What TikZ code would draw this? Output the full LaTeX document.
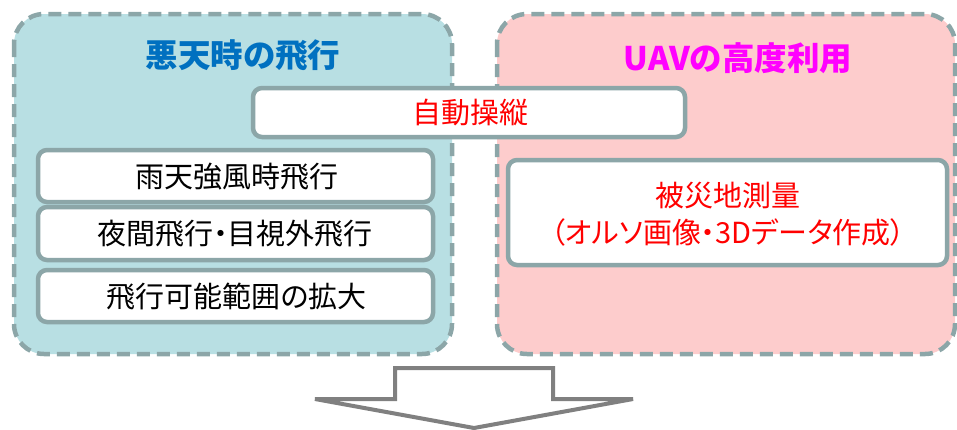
\documentclass[tikz,border=0pt]{standalone}
\usepackage{fontspec}
\setmainfont[RawFeature=+palt]{Noto Sans CJK JP}
\definecolor{leftfill}{RGB}{184,223,227}
\definecolor{rightfill}{RGB}{253,204,204}
\definecolor{edgegray}{RGB}{140,166,168}
\definecolor{titleblue}{RGB}{0,112,192}
\definecolor{titlemag}{RGB}{255,0,255}
\definecolor{arrowgray}{RGB}{128,128,128}
\tikzset{
  groupbox/.style={draw=edgegray, line width=4.5pt, dash pattern=on 13pt off 7pt, rounded corners=30pt},
  itembox/.style={draw=edgegray, fill=white, line width=4.5pt, rounded corners=9pt, inner sep=0pt},
  itemtext/.style={font=\fontsize{29}{37}\selectfont, text=black},
  titletext/.style={font=\bfseries\fontsize{32.5}{36}\selectfont},
}
\begin{document}
\begin{tikzpicture}[x=1pt,y=-1pt]
\useasboundingbox (0,0) rectangle (957,429);
% group boxes
\draw[groupbox, fill=leftfill] (14,14) rectangle (452,354);
\draw[groupbox, fill=rightfill] (497,14) rectangle (955,354);
% titles
\node[titletext, text=titleblue] (t1) at (243,55) {悪天時の飛行};
\node[titletext, text=titlemag] (t2) at (738,58) {UAVの高度利用};
% auto pilot
\node[itembox, minimum width=432pt, minimum height=49pt] (auto) at (469,112.5) {};
\node[itemtext, text=red] (autot) at (470,113) {自動操縦};
% left items
\node[itembox, minimum width=395pt, minimum height=52pt] (l1) at (235.5,176) {};
\node[itemtext] (l1t) at (236.5,177) {雨天強風時飛行};
\node[itembox, minimum width=395pt, minimum height=53pt] (l2) at (235.5,233.5) {};
\node[itemtext] (l2t) at (235,234) {夜間飛行・目視外飛行};
\node[itembox, minimum width=395pt, minimum height=52pt] (l3) at (235.5,296) {};
\node[itemtext] (l3t) at (236.5,297) {飛行可能範囲の拡大};
% right item
\node[itembox, minimum width=439pt, minimum height=105pt] (r1) at (727.5,212.5) {};
\node[itemtext, text=red, align=center] (r1t) at (728,214) {被災地測量\\（オルソ画像・3Dデータ作成）};
% arrow
\coordinate (a1) at (395,368);
\coordinate (a2) at (553,368);
\coordinate (a3) at (553,399);
\coordinate (a4) at (633,399);
\coordinate (a5) at (474,428);
\coordinate (a6) at (315,399);
\coordinate (a7) at (395,399);
\draw[arrowgray, line width=4pt, fill=white] (a1) -- (a2) -- (a3) -- (a4) -- (a5) -- (a6) -- (a7) -- cycle;
\end{tikzpicture}
\end{document}
